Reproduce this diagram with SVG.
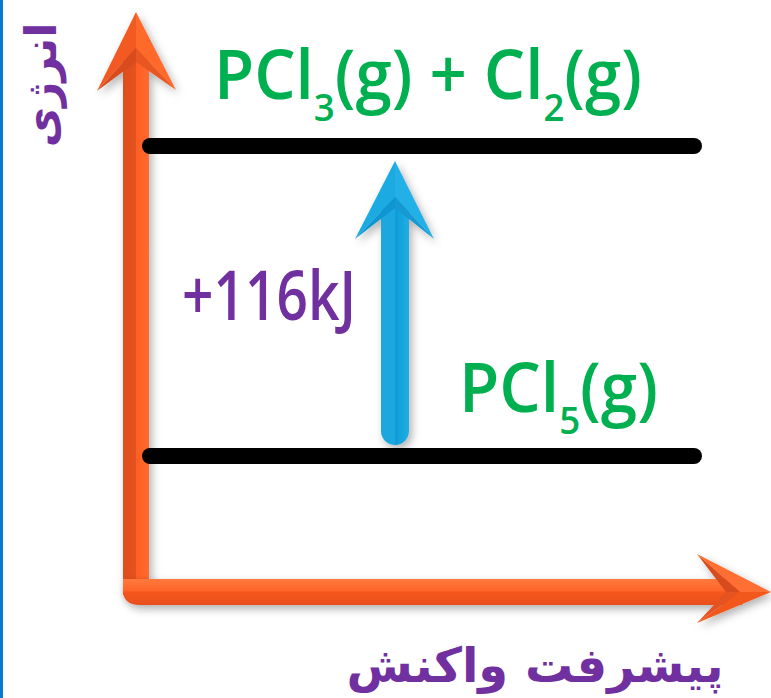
<svg xmlns="http://www.w3.org/2000/svg" width="771" height="698" viewBox="0 0 771 698">
<style>
.lvl{stroke:#000;stroke-width:16;stroke-linecap:round;fill:none}
.chem{fill:#00B050;font-family:"Open Sans","DejaVu Sans",sans-serif;font-weight:600;font-size:68px}
.sub{font-size:38px}
.purp{fill:#7030A0}
</style>
<defs>
<linearGradient id="og" x1="0" y1="0" x2="1" y2="0">
<stop offset="0" stop-color="#DE4E1E"/><stop offset="0.5" stop-color="#E4521F"/><stop offset="0.5" stop-color="#FF5E26"/><stop offset="1" stop-color="#FF6A2E"/>
</linearGradient>
<linearGradient id="ogh" x1="0" y1="0" x2="0" y2="1">
<stop offset="0" stop-color="#FF7A3E"/><stop offset="0.45" stop-color="#FF6428"/><stop offset="0.5" stop-color="#F5561F"/><stop offset="1" stop-color="#E8501E"/>
</linearGradient>
<linearGradient id="bg" x1="0" y1="0" x2="1" y2="0">
<stop offset="0" stop-color="#1BA8DF"/><stop offset="0.5" stop-color="#1BA8DF"/><stop offset="0.5" stop-color="#0E9CD8"/><stop offset="1" stop-color="#20AEE4"/>
</linearGradient>
<filter id="sh" x="-20%" y="-20%" width="140%" height="140%">
<feDropShadow dx="3" dy="4" stdDeviation="4" flood-color="#000" flood-opacity="0.3"/>
</filter>
</defs>
<rect x="0" y="0" width="771" height="698" fill="#fff"/>
<rect x="0" y="0" width="3" height="698" fill="#0B78D0"/>

<g id="connectors">
<g id="y-axis" filter="url(#sh)">
<path d="M123,48 H149 V595 H123 Z" fill="url(#og)"/>
<polygon points="136,12 136,48 97,91" fill="#F25A22"/>
<polygon points="136,12 176,90 136,48" fill="#FF6A2C"/>
<polygon points="97,91 136,48 136,62" fill="#D84B1B"/>
<polygon points="176,90 136,48 136,62" fill="#E85620"/>
</g>
<g id="x-axis" filter="url(#sh)">
<path d="M136,579 H742 V605 H140 Q123,605 123,590 V579 Z" fill="url(#ogh)"/>
<polygon points="771,592 740,592 697,554" fill="#FF6E30"/>
<polygon points="771,592 740,592 697,623" fill="#F2581F"/>
<polygon points="697,554 740,592 726,592" fill="#D84B1B"/>
<polygon points="697,623 740,592 726,592" fill="#E55220"/>
</g>
<g id="energy-arrow" filter="url(#sh)">
<path d="M381,197 H409 V431 A14,14 0 0 1 381,431 Z" fill="url(#bg)"/>
<polygon points="395,161 395,197 355,239" fill="#1FAAE2"/>
<polygon points="395,161 434,239 395,197" fill="#22B0E6"/>
<polygon points="355,239 395,197 395,208" fill="#0F96D0"/>
<polygon points="434,239 395,197 395,208" fill="#1699D3"/>
</g>
</g>

<g id="level-products">
<line class="lvl" x1="150" y1="146" x2="694" y2="146"/>
<text class="chem" x="214" y="99" textLength="428" lengthAdjust="spacingAndGlyphs">PCl<tspan class="sub" dy="22">3</tspan><tspan dy="-22">(g) + Cl</tspan><tspan class="sub" dy="22">2</tspan><tspan dy="-22">(g)</tspan></text>
</g>

<g id="level-reactant">
<line class="lvl" x1="150" y1="456" x2="694" y2="456"/>
<text class="chem" x="459" y="412" textLength="199" lengthAdjust="spacingAndGlyphs">PCl<tspan class="sub" dy="22">5</tspan><tspan dy="-22">(g)</tspan></text>
</g>

<g id="delta-h">
<text class="chem purp" x="182" y="320" textLength="174" lengthAdjust="spacingAndGlyphs">+116kJ</text>
</g>

<g id="y-label">
<text class="purp" transform="translate(56,85) rotate(-90)" text-anchor="middle" font-family="'DejaVu Sans',sans-serif" font-weight="bold" font-size="44" direction="rtl">انرژی</text>
</g>
<g id="x-label">
<text class="purp" x="535" y="682" text-anchor="middle" font-family="'DejaVu Sans',sans-serif" font-weight="bold" font-size="48" direction="rtl">پیشرفت واکنش</text>
</g>
</svg>
